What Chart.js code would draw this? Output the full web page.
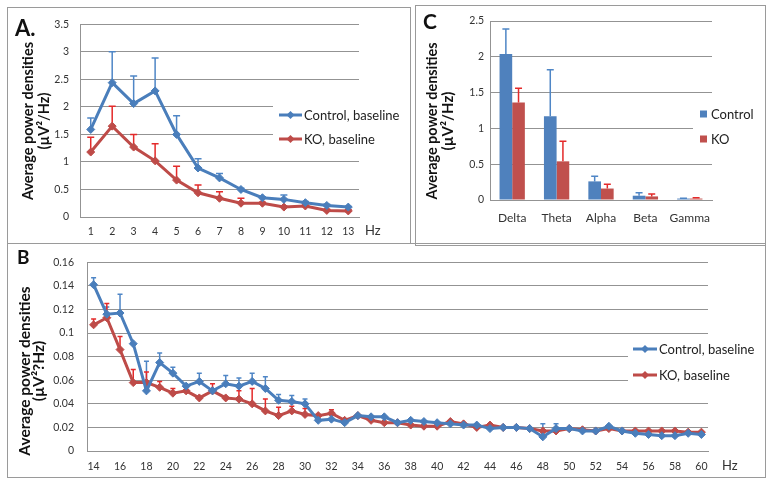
<!DOCTYPE html>
<html><head><meta charset="utf-8">
<script src="https://cdn.jsdelivr.net/npm/chart.js@4.4.1/dist/chart.umd.min.js"></script>
<style>
body{margin:0;background:#fff;}
#wrap{position:relative;width:773px;height:486px;overflow:hidden;background:#fff}
.box{position:absolute;border:1.5px solid #9a9a9a;box-sizing:border-box}
canvas{position:absolute}
</style></head><body>
<div id="wrap">
<div class="box" style="left:7px;top:7px;width:404px;height:237px"></div>
<div class="box" style="left:415px;top:5px;width:351px;height:241px"></div>
<div class="box" style="left:7px;top:243px;width:759px;height:235px"></div>
<canvas id="cA" width="403" height="237" style="left:7px;top:7px;width:403px;height:237px"></canvas>
<canvas id="cC" width="350" height="240" style="left:415px;top:5px;width:350px;height:240px"></canvas>
<canvas id="cB" width="759" height="234" style="left:7px;top:243px;width:759px;height:234px"></canvas>
</div>
<script>
// ---------- DATA ----------
// Panel A: 1-13 Hz
const hzA = ['1','2','3','4','5','6','7','8','9','10','11','12','13'];
const ctrlA = [1.59,2.44,2.06,2.29,1.50,0.89,0.71,0.50,0.35,0.32,0.26,0.21,0.18];
const ctrlAErr = [0.21,0.56,0.50,0.60,0.34,0.17,0.08,0.02,0.02,0.08,0.02,0.02,0.01];
const koA = [1.18,1.65,1.27,1.02,0.67,0.44,0.34,0.25,0.25,0.18,0.20,0.12,0.11];
const koAErr = [0.27,0.36,0.23,0.31,0.25,0.14,0.12,0.09,0.02,0.02,0.02,0.02,0.02];

// Panel B: 14-60 Hz
const hzB = ['14','15','16','17','18','19','20','21','22','23','24','25','26','27','28','29','30',
  '31','32','33','34','35','36','37','38','39','40','41','42','43','44','45','46','47','48','49','50',
  '51','52','53','54','55','56','57','58','59','60'];
const ctrlB = [0.141,0.116,0.117,0.091,0.051,0.075,0.066,0.055,0.059,0.051,0.057,0.055,0.059,0.053,0.043,0.042,0.040,
  0.026,0.027,0.024,0.030,0.029,0.029,0.024,0.026,0.025,0.024,0.023,0.022,0.022,0.019,0.020,0.020,0.019,0.012,0.019,0.019,
  0.017,0.017,0.021,0.017,0.015,0.014,0.013,0.013,0.015,0.014];
const ctrlBErr = [0.006,0.006,0.016,0,0.025,0.008,0.005,0,0.007,0,0.007,0.007,0.007,0.010,0.005,0.005,0.004,
  0,0,0,0,0,0,0,0,0,0,0,0,0,0,0,0,0,0.011,0.004,0,
  0,0,0,0,0,0,0,0,0,0];
const koB = [0.107,0.113,0.086,0.058,0.058,0.054,0.049,0.051,0.045,0.051,0.045,0.044,0.040,0.034,0.030,0.034,0.031,
  0.030,0.032,0.026,0.030,0.026,0.024,0.024,0.022,0.021,0.021,0.025,0.023,0.020,0.022,0.020,0.020,0.019,0.017,0.017,0.019,
  0.018,0.017,0.019,0.017,0.017,0.017,0.017,0.017,0.016,0.016];
const koBErr = [0.005,0.012,0.011,0.011,0.009,0.005,0.004,0,0,0.006,0,0.007,0.013,0.010,0.007,0.004,0.005,
  0,0.003,0,0,0,0,0,0,0,0,0,0,0,0,0,0,0,0,0,0,
  0,0,0,0,0,0,0,0,0,0];

// Panel C: frequency bands
const bands = ['Delta','Theta','Alpha','Beta','Gamma'];
const ctrlC = [2.04,1.17,0.26,0.06,0.02];
const ctrlCErr = [0.35,0.65,0.07,0.04,0.005];
const koC = [1.36,0.54,0.16,0.05,0.02];
const koCErr = [0.20,0.28,0.06,0.035,0.01];

// ---------- STYLE ----------
const FONT = 'Lato, "Open Sans", sans-serif';
const BLUE = '#4A7EBB', RED = '#BE4B48';
const BLUE_E = '#4F86C6', RED_E = '#E42A2A';
const BAR_B = '#4F81BD', BAR_R = '#C0504D';
const GRID = '#939393', TICK = '#333333';
const fmt = v => String(+(+v).toFixed(3));

function deco(cfg) {
  function drawErr(chart) {
    const ctx = chart.ctx, ys = chart.scales.y;
    cfg.err.forEach((arr, i) => {
      const meta = chart.getDatasetMeta(i), data = chart.data.datasets[i].data;
      ctx.save();
      ctx.strokeStyle = cfg.errColor[i]; ctx.lineWidth = cfg.errW;
      arr.forEach((e, j) => {
        if (!e) return;
        const el = meta.data[j];
        const x = el.x, y0 = el.y, y1 = ys.getPixelForValue(data[j] + e);
        ctx.beginPath(); ctx.moveTo(x, y0); ctx.lineTo(x, y1);
        ctx.moveTo(x - cfg.cap, y1); ctx.lineTo(x + cfg.cap, y1); ctx.stroke();
      });
      ctx.restore();
    });
  }
  return {
    id: 'deco',
    beforeDatasetsDraw(chart) { if (!cfg.errAfter) drawErr(chart); },
    afterDatasetsDraw(chart) { if (cfg.errAfter) drawErr(chart); },
    afterDraw(chart) {
      const ctx = chart.ctx;
      ctx.save();
      // legend
      const L = cfg.legend;
      ctx.fillStyle = '#fff';
      ctx.fillRect(L.box[0], L.box[1], L.box[2], L.box[3]);
      L.items.forEach((it, k) => {
        const y = L.y0 + k * L.dy;
        if (L.type === 'line') {
          ctx.strokeStyle = it.color; ctx.lineWidth = 3;
          ctx.beginPath(); ctx.moveTo(L.x1, y); ctx.lineTo(L.x2, y); ctx.stroke();
          const cx = (L.x1 + L.x2) / 2, r = 4;
          ctx.fillStyle = it.color;
          ctx.beginPath(); ctx.moveTo(cx, y - r); ctx.lineTo(cx + r, y); ctx.lineTo(cx, y + r); ctx.lineTo(cx - r, y); ctx.closePath(); ctx.fill();
        } else {
          ctx.fillStyle = it.color;
          ctx.fillRect(L.x1, y - 3.5, 7, 7);
        }
        ctx.fillStyle = '#222';
        ctx.font = 'normal ' + L.size + 'px ' + FONT;
        ctx.textAlign = 'left'; ctx.textBaseline = 'middle';
        ctx.fillText(it.text, L.tx, y + 0.5);
      });
      // panel label
      ctx.fillStyle = '#111';
      ctx.font = 'bold ' + cfg.label.size + 'px ' + FONT;
      ctx.textAlign = 'left'; ctx.textBaseline = 'alphabetic';
      ctx.fillText(cfg.label.text, cfg.label.x, cfg.label.y);
      // Hz
      if (cfg.hz) {
        ctx.fillStyle = '#333';
        ctx.font = 'normal ' + cfg.hz.size + 'px ' + FONT;
        ctx.textBaseline = 'middle';
        ctx.fillText('Hz', cfg.hz.x, cfg.hz.y);
      }
      // y title
      const T = cfg.title;
      ctx.font = 'bold ' + T.size + 'px ' + FONT;
      ctx.fillStyle = '#111';
      ctx.textAlign = 'center'; ctx.textBaseline = 'middle';
      T.lines.forEach((t, k) => {
        ctx.save(); ctx.translate(T.cx[k], T.cy); ctx.rotate(-Math.PI / 2);
        ctx.fillText(t, 0, 0, T.len); ctx.restore();
      });
      ctx.restore();
    }
  };
}

function scalesCfg(yMax, step, yW, xH, xFont, xPad, yPad, xCb) {
  return {
    x: {
      offset: true,
      grid: { display: false, drawTicks: false },
      border: { display: true, color: GRID, width: 1 },
      ticks: { color: TICK, font: { family: FONT, size: xFont }, padding: xPad, autoSkip: false, maxRotation: 0, minRotation: 0, callback: xCb },
      afterFit(s) { s.height = xH; }
    },
    y: {
      min: 0, max: yMax,
      grid: { color: GRID, lineWidth: 1, drawTicks: false },
      border: { display: true, color: GRID, width: 1 },
      ticks: { stepSize: step, color: TICK, font: { family: FONT, size: 10.5 }, padding: yPad, callback: fmt },
      afterFit(s) { s.width = yW; }
    }
  };
}

function lineDs(label, data, color) {
  return { label, data, borderColor: color, backgroundColor: color, borderWidth: 3,
    pointStyle: 'rectRot', pointRadius: 4, pointBorderWidth: 1, pointBackgroundColor: color, pointBorderColor: color,
    tension: 0, fill: false };
}

// ---------- Panel A ----------
new Chart(document.getElementById('cA'), {
  type: 'line',
  data: { labels: hzA, datasets: [lineDs('Control, baseline', ctrlA, BLUE), lineDs('KO, baseline', koA, RED)] },
  options: {
    responsive: false, animation: false, devicePixelRatio: 1,
    layout: { padding: { top: 16, right: 51, left: 0, bottom: 0 } },
    plugins: { legend: { display: false }, tooltip: { enabled: false } },
    scales: scalesCfg(3.5, 0.5, 73, 27, 10.5, 8, 11, function (v) { return this.getLabelForValue(v); })
  },
  plugins: [deco({
    err: [ctrlAErr, koAErr], errColor: [BLUE_E, RED_E], errW: 1.5, cap: 3.5, errAfter: false,
    legend: { type: 'line', box: [266, 91, 88, 52], x1: 272, x2: 295, tx: 297, y0: 108, dy: 24, size: 13,
      items: [{ text: 'Control, baseline', color: BLUE }, { text: 'KO, baseline', color: RED }] },
    label: { text: 'A.', x: 8, y: 29, size: 22 },
    hz: { x: 358, y: 224, size: 13 },
    title: { lines: ['Average power densities', '(µV²/Hz)'], cx: [21, 37], cy: 114, len: 158, size: 14.5 }
  })]
});

// ---------- Panel B ----------
new Chart(document.getElementById('cB'), {
  type: 'line',
  data: { labels: hzB, datasets: [lineDs('Control, baseline', ctrlB, BLUE), lineDs('KO, baseline', koB, RED)] },
  options: {
    responsive: false, animation: false, devicePixelRatio: 1,
    layout: { padding: { top: 15, right: 58, left: 0, bottom: 0 } },
    plugins: { legend: { display: false }, tooltip: { enabled: false } },
    scales: scalesCfg(0.16, 0.02, 80, 26, 10.5, 9, 13, function (v) { const l = this.getLabelForValue(v); return (+l) % 2 === 0 ? l : ''; })
  },
  plugins: [deco({
    err: [ctrlBErr, koBErr], errColor: [BLUE_E, RED_E], errW: 1.5, cap: 2.5, errAfter: false,
    legend: { type: 'line', box: [621, 95, 81, 50], x1: 626, x2: 650, tx: 652, y0: 106, dy: 26, size: 13,
      items: [{ text: 'Control, baseline', color: BLUE }, { text: 'KO, baseline', color: RED }] },
    label: { text: 'B', x: 10, y: 21, size: 19 },
    hz: { x: 715, y: 223, size: 13 },
    title: { lines: ['Average power densities', '(µV²?Hz)'], cx: [18, 32], cy: 128, len: 180, size: 15.5 }
  })]
});

// ---------- Panel C ----------
new Chart(document.getElementById('cC'), {
  type: 'bar',
  data: { labels: bands, datasets: [
    { label: 'Control', data: ctrlC, backgroundColor: BAR_B, categoryPercentage: 0.57, barPercentage: 1 },
    { label: 'KO', data: koC, backgroundColor: BAR_R, categoryPercentage: 0.57, barPercentage: 1 }
  ] },
  options: {
    responsive: false, animation: false, devicePixelRatio: 1,
    layout: { padding: { top: 16, right: 53, left: 0, bottom: 0 } },
    plugins: { legend: { display: false }, tooltip: { enabled: false } },
    scales: scalesCfg(2.5, 0.5, 75, 45, 12, 11, 6, function (v) { return this.getLabelForValue(v); })
  },
  plugins: [deco({
    err: [ctrlCErr, koCErr], errColor: [BLUE_E, RED_E], errW: 1.5, cap: 3.5, errAfter: true,
    legend: { type: 'box', box: [278, 97, 20, 48], x1: 285, tx: 296, y0: 109, dy: 25, size: 13,
      items: [{ text: 'Control', color: BAR_B }, { text: 'KO', color: BAR_R }] },
    label: { text: 'C', x: 8, y: 24, size: 21 },
    title: { lines: ['Average power densities', '(µV²/Hz)'], cx: [17, 33], cy: 116, len: 157, size: 15 }
  })]
});
</script>
</body></html>
